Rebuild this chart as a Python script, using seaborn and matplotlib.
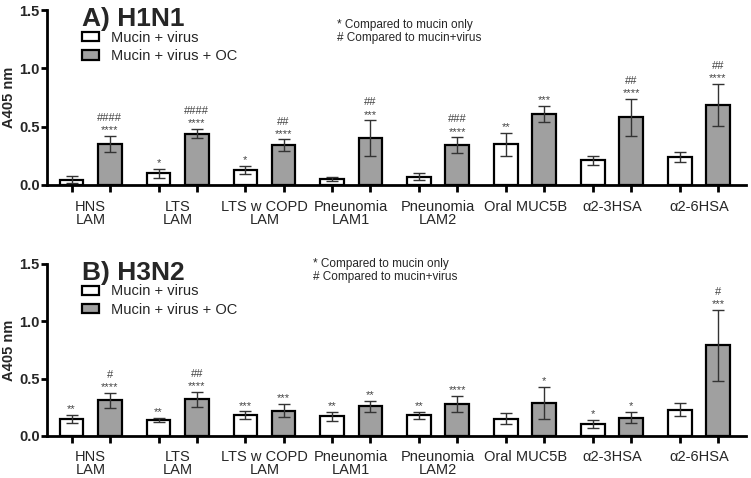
import numpy as np
import pandas as pd
import matplotlib
matplotlib.use("Agg")
import matplotlib.pyplot as plt
import seaborn as sns

# data (mean and error bar half-length)
categories = ["HNS\nLAM", "LTS\nLAM", "LTS w COPD\nLAM", "Pneunomia\nLAM1",
              "Pneunomia\nLAM2", "Oral MUC5B", "α2-3HSA", "α2-6HSA"]
groups = ["Mucin + virus", "Mucin + virus + OC"]

h1n1_virus = [0.045, 0.10, 0.13, 0.05, 0.07, 0.35, 0.21, 0.24]
h1n1_virus_err = [0.03, 0.04, 0.035, 0.02, 0.03, 0.10, 0.04, 0.045]
h1n1_oc = [0.35, 0.44, 0.34, 0.40, 0.34, 0.61, 0.58, 0.69]
h1n1_oc_err = [0.07, 0.04, 0.05, 0.155, 0.07, 0.07, 0.16, 0.18]
h1n1_virus_star = ["", "*", "*", "", "", "**", "", ""]
h1n1_oc_star = ["****", "****", "****", "***", "****", "***", "****", "****"]
h1n1_oc_hash = ["####", "####", "##", "##", "###", "", "##", "##"]

h3n2_virus = [0.15, 0.14, 0.18, 0.17, 0.18, 0.15, 0.105, 0.23]
h3n2_virus_err = [0.035, 0.02, 0.036, 0.04, 0.03, 0.05, 0.035, 0.055]
h3n2_oc = [0.31, 0.32, 0.22, 0.26, 0.28, 0.29, 0.16, 0.79]
h3n2_oc_err = [0.065, 0.065, 0.058, 0.047, 0.07, 0.14, 0.05, 0.31]
h3n2_virus_star = ["**", "**", "***", "**", "**", "", "*", ""]
h3n2_oc_star = ["****", "****", "***", "**", "****", "*", "*", "***"]
h3n2_oc_hash = ["#", "##", "", "", "", "", "", "#"]

sns.set_style("ticks")
plt.rcParams["font.family"] = ["Liberation Sans", "DejaVu Sans"]

fig = plt.figure(figsize=(7.51, 4.78), dpi=100)
ax1 = fig.add_axes([0.063, 0.613, 0.930, 0.366])
ax2 = fig.add_axes([0.063, 0.088, 0.930, 0.360])

panels = [
    (ax1, "A) H1N1", h1n1_virus, h1n1_virus_err, h1n1_oc, h1n1_oc_err,
     h1n1_virus_star, h1n1_oc_star, h1n1_oc_hash, 0.415, 0.95, 0.94, 10.5),
    (ax2, "B) H3N2", h3n2_virus, h3n2_virus_err, h3n2_oc, h3n2_oc_err,
     h3n2_virus_star, h3n2_oc_star, h3n2_oc_hash, 0.38, 1.035, 0.94, 10.0),
]

for (ax, title, v, ve, oc, oce, vs, ocs, och,
     note_x, note_y, leg_y, lab_pad) in panels:
    df = pd.DataFrame({
        "cat": categories * 2,
        "group": [groups[0]] * len(categories) + [groups[1]] * len(categories),
        "val": v + oc,
    })
    sns.barplot(data=df, x="cat", y="val", hue="group", order=categories,
                hue_order=groups, palette=["white", "#a0a0a0"],
                width=0.88, gap=0.38, errorbar=None, edgecolor="black",
                linewidth=1.6, legend=False, ax=ax)

    positions = []
    for cont, err, stars, hashes in [(ax.containers[0], ve, vs, None),
                                     (ax.containers[1], oce, ocs, och)]:
        xs = [b.get_x() + b.get_width() / 2 for b in cont]
        ys = [b.get_height() for b in cont]
        positions += xs
        ax.errorbar(xs, ys, yerr=err, fmt="none", ecolor="#333333",
                    elinewidth=1.0, capsize=4.5, capthick=1.0, zorder=3)
        for i, (x, y, e) in enumerate(zip(xs, ys, err)):
            if stars[i]:
                ax.text(x, y + e + 0.005, stars[i], ha="center", va="bottom",
                        fontsize=8, color="#444444")
            if hashes is not None and hashes[i]:
                ax.text(x, y + e + 0.11, hashes[i], ha="center", va="bottom",
                        fontsize=8, color="#444444")

    ax.set_ylim(0, 1.5)
    ax.set_xlim(-0.5, 7.54)
    ax.set_yticks([0, 0.5, 1.0, 1.5])
    ax.set_yticklabels(["0.0", "0.5", "1.0", "1.5"], fontweight="bold",
                       fontsize=10.5)
    ax.set_xticks(sorted(positions))
    ax.set_xticklabels([""] * len(positions))
    ax.set_xticks(range(len(categories)), minor=True)
    ax.set_xticklabels(categories, minor=True, fontsize=10.5, linespacing=0.97)
    ax.tick_params(axis="x", which="minor", length=0, pad=lab_pad)
    ax.tick_params(axis="x", which="major", length=5, width=2, color="k",
                   direction="out", bottom=True)
    ax.tick_params(axis="y", which="major", length=4, width=2, color="k",
                   direction="out", left=True, pad=1.5)
    ax.set_xlabel("")
    ax.set_ylabel("A405 nm", fontweight="bold", fontsize=10.5, labelpad=2)
    sns.despine(ax=ax)
    for s in ["left", "bottom"]:
        ax.spines[s].set_linewidth(2)
        ax.spines[s].set_color("black")

    ax.text(0.05, 1.015, title, transform=ax.transAxes, fontsize=19,
            fontweight="bold", va="top", ha="left")
    ax.text(note_x, note_y, "* Compared to mucin only\n# Compared to mucin+virus",
            transform=ax.transAxes, fontsize=8.5, va="top", ha="left",
            linespacing=1.1)
    ax.legend(handles=[ax.containers[0][0], ax.containers[1][0]],
              labels=groups, loc="upper left", bbox_to_anchor=(0.035, leg_y),
              frameon=False, fontsize=10.5, handlelength=1.2,
              handleheight=0.6, labelspacing=0.3, borderpad=0.2)

fig.savefig("out.png", dpi=100)
